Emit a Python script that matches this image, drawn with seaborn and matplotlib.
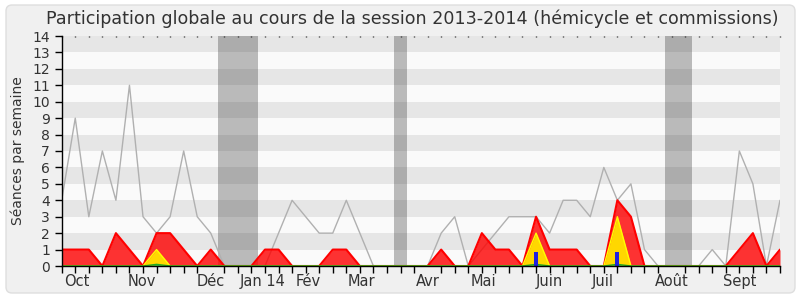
import numpy as np
import pandas as pd
import matplotlib
matplotlib.use("Agg")
import matplotlib.pyplot as plt
import seaborn as sns
from matplotlib.patches import FancyBboxPatch

# ---- data (one value per week of the session) ----
weeks = list(range(54))
total_seances = [4, 9, 3, 7, 4, 11, 3, 2, 3, 7, 3, 2, 0, 0, 0, 0, 2, 4, 3, 2,
                 2, 4, 2, 0, 0, 0, 0, 0, 2, 3, 0, 1, 2, 3, 3, 3, 2, 4, 4, 3,
                 6, 4, 5, 1, 0, 0, 0, 0, 1, 0, 7, 5, 0, 4]
presences = [1, 1, 1, 0, 2, 1, 0, 2, 2, 1, 0, 1, 0, 0, 0, 1, 1, 0, 0, 0,
             1, 1, 0, 0, 0, 0, 0, 0, 1, 0, 0, 2, 1, 1, 0, 3, 1, 1, 1, 0,
             0, 4, 3, 0, 0, 0, 0, 0, 0, 0, 1, 2, 0, 1]
interventions = [0, 0, 0, 0, 0, 0, 0, 1, 0, 0, 0, 0, 0, 0, 0, 0, 0, 0, 0, 0,
                 0, 0, 0, 0, 0, 0, 0, 0, 0, 0, 0, 0, 0, 0, 0, 2, 0, 0, 0, 0,
                 0, 3, 0, 0, 0, 0, 0, 0, 0, 0, 0, 0, 0, 0]
interventions_courtes = [0, 0, 0, 0, 0, 0, 0, 0.1, 0, 0, 0, 0, 0, 0, 0, 0, 0, 0, 0, 0,
                         0, 0, 0, 0, 0, 0, 0, 0, 0, 0, 0, 0, 0, 0, 0, 0.1, 0, 0, 0, 0,
                         0, 0.1, 0, 0, 0, 0, 0, 0, 0, 0, 0, 0, 0, 0]
questions = [0] * 35 + [0.87] + [0] * 5 + [0.87] + [0] * 12
vacances = [12, 13, 14, 25, 45, 46]
month_labels = ["Oct", "Nov", "Déc", "Jan 14", "Fév", "Mar", "Avr", "Mai",
                "Juin", "Juil", "Août", "Sept"]
month_pos = [1.11, 5.93, 11.0, 14.86, 18.18, 22.14, 27.0, 31.1, 35.96,
             39.95, 45.0, 50.06]
y_ticks = list(range(15))
title = "Participation globale au cours de la session 2013-2014 (hémicycle et commissions)"
ylabel = "Séances par semaine"

df = pd.DataFrame({"semaine": weeks, "total": total_seances, "presences": presences,
                   "interventions": interventions, "courtes": interventions_courtes,
                   "questions": questions})

sns.set_theme(style="white")
plt.rcParams['font.family'] = ['DejaVu Sans']
txt = '#333333'

fig = plt.figure(figsize=(8, 3), dpi=100)
fig.patch.set_facecolor('white')
frame = FancyBboxPatch((6 / 800, 7 / 300), 789 / 800, 288 / 300,
                       boxstyle="round,pad=0,rounding_size=0.0075",
                       mutation_aspect=2.667, transform=fig.transFigure,
                       fc='#f0f0f0', ec='#dedede', lw=1, zorder=-10)
fig.patches.append(frame)

ax = fig.add_axes([61.7 / 800, 34 / 300, (780 - 61.7) / 800, 230 / 300])
ax.set_facecolor('#fafafa')

for k in range(14):
    ax.axhspan(k, k + 1, color='#fafafa' if k % 2 == 0 else '#e6e6e6', lw=0, zorder=0)

# group consecutive vacation weeks
groups = []
for v in vacances:
    if groups and v == groups[-1][1] + 1:
        groups[-1][1] = v
    else:
        groups.append([v, v])
for a, b in groups:
    ax.axvspan(a - 0.5, b + 0.5, color='#282828', alpha=0.3, lw=0, zorder=1)

sns.lineplot(data=df, x="semaine", y="total", color='#b0b0b0', lw=1, ax=ax, zorder=2)

ax.fill_between(df["semaine"], df["presences"], color=(1, 0, 0), alpha=0.8, lw=0, zorder=3)
sns.lineplot(data=df, x="semaine", y="presences", color='#ff0000', lw=1.5, ax=ax, zorder=4)

ax.fill_between(df["semaine"], df["interventions"], color='#ffd700', lw=0, zorder=5)
sns.lineplot(data=df, x="semaine", y="interventions", color='#ffff00', lw=1, ax=ax, zorder=6)

ax.fill_between(df["semaine"], df["courtes"], color='#44cc44', lw=0, zorder=7)
sns.lineplot(data=df, x="semaine", y="courtes", color='#22aa22', lw=1, ax=ax, zorder=7)

ax.bar(df["semaine"], df["questions"], width=0.3, color='#2222dd', lw=0, zorder=8)

ax.set_xlim(0, 53)
ax.set_ylim(0, 14)

for s in ['top', 'right']:
    ax.spines[s].set_visible(False)
for s in ['left', 'bottom']:
    ax.spines[s].set_color('black')
    ax.spines[s].set_linewidth(1)
    ax.spines[s].set_zorder(10)

ax.set_yticks(y_ticks)
ax.set_yticklabels([str(t) for t in y_ticks])
ax.tick_params(axis='y', direction='out', length=5, width=1, color='black',
               labelsize=10, labelcolor=txt, pad=3.5, left=True)

ax.set_xticks(month_pos)
ax.set_xticklabels(month_labels)
ax.set_xticks(weeks, minor=True)
ax.tick_params(axis='x', which='major', length=0, labelsize=10.5, labelcolor=txt, pad=6)
ax.tick_params(axis='x', which='minor', direction='out', length=5, width=1,
               color='black', bottom=True)

sec = ax.secondary_xaxis('top')
sec.set_xticks(weeks)
sec.set_xticklabels([])
sec.tick_params(direction='in', length=1.0, width=1.0, color='#222222')
sec.spines['top'].set_visible(False)

ax.set_xlabel("")
ax.set_ylabel(ylabel, fontsize=10, color=txt)
ax.yaxis.set_label_coords(-(61.7 - 25) / (780 - 61.7), 0.5)

fig.text(412 / 800, 1 - 19 / 300, title, ha='center', va='center', fontsize=12.6, color=txt)

fig.savefig("out.png", dpi=100, facecolor='white')
